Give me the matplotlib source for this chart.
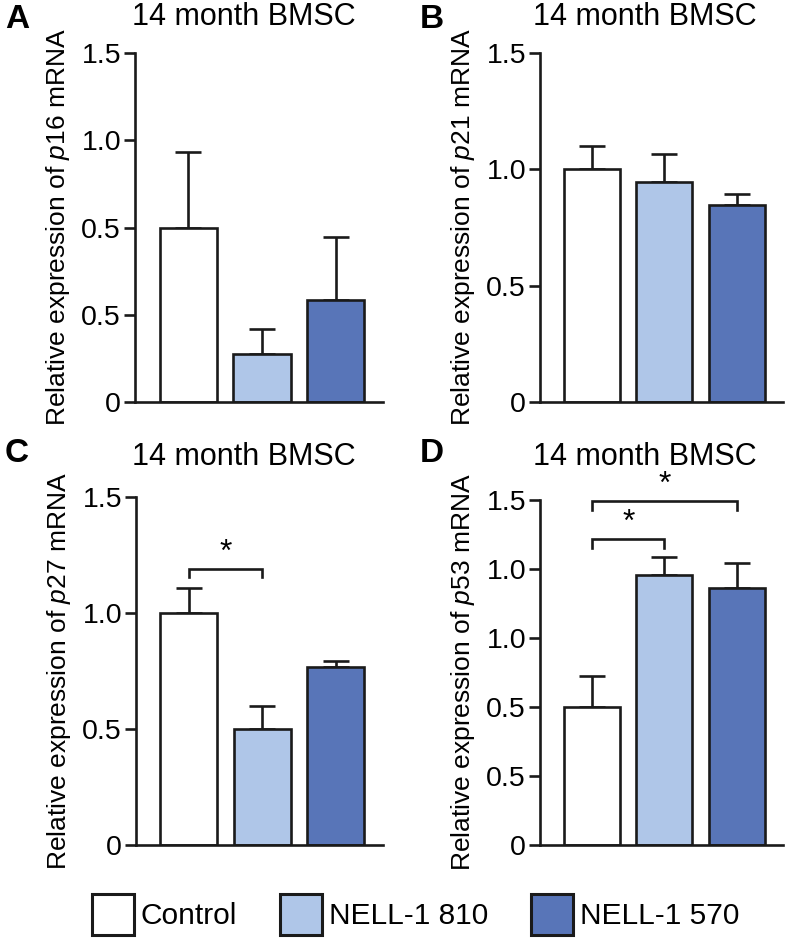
import numpy as np
import matplotlib
matplotlib.use("Agg")
import matplotlib.pyplot as plt
from matplotlib.patches import Patch

plt.rcParams['font.family'] = ['Liberation Sans', 'DejaVu Sans']
plt.rcParams['mathtext.fontset'] = 'custom'
plt.rcParams['mathtext.rm'] = 'Liberation Sans'
plt.rcParams['mathtext.it'] = 'Liberation Sans:italic'
plt.rcParams['mathtext.bf'] = 'Liberation Sans:bold'

groups = ["Control", "NELL-1 810", "NELL-1 570"]
colors = ["#ffffff", "#afc6e8", "#5875b8"]
edge = "#1a1a1a"

# Panel A (p16) - axis units, tick labels as printed
a_mean = [0.75, 0.205, 0.437]
a_err = [0.324, 0.107, 0.271]
a_ticklabels = ["0", "0.5", "0.5", "1.0", "1.5"]

# Panel B (p21)
b_mean = [1.0, 0.947, 0.847]
b_err = [0.101, 0.118, 0.048]
b_ticklabels = ["0", "0.5", "1.0", "1.5"]

# Panel C (p27)
c_mean = [1.0, 0.5, 0.768]
c_err = [0.106, 0.097, 0.026]
c_ticklabels = ["0", "0.5", "1.0", "1.5"]

# Panel D (p53)
d_mean = [0.601, 1.174, 1.116]
d_err = [0.134, 0.079, 0.111]
d_ticklabels = ["0", "0.5", "0.5", "1.0", "1.0", "1.5"]

# significance brackets: (left group, right group, bottom y, top y)
c_brackets = [(0, 1, 1.155, 1.19)]
d_brackets = [(0, 1, 1.29, 1.329), (0, 2, 1.457, 1.496)]

genes = ["p16", "p21", "p27", "p53"]
panels = ["A", "B", "C", "D"]

fig = plt.figure(figsize=(7.91, 9.41), dpi=100)

W, H = 791, 941
def rect(l, r, b, t):
    return [l / W, 1 - b / H, (r - l) / W, (b - t) / H]

axes_rects = [rect(135, 383, 402, 53), rect(540, 783, 402, 53),
              rect(136, 383, 845, 497), rect(540, 783, 845, 500)]
data = [(a_mean, a_err, a_ticklabels, []),
        (b_mean, b_err, b_ticklabels, []),
        (c_mean, c_err, c_ticklabels, c_brackets),
        (d_mean, d_err, d_ticklabels, d_brackets)]
title_pos = [(244, 17), (645, 17), (244, 457), (645, 457)]
letter_pos = [(17, 20), (432, 20), (17, 453), (432, 453)]

lw = 1.9
x = np.arange(len(groups))
for i, (r, (mean, err, tl, brackets)) in enumerate(zip(axes_rects, data)):
    ax = fig.add_axes(r)
    ax.bar(x, mean, width=0.775, color=colors, edgecolor=edge, linewidth=lw, zorder=2)
    ax.errorbar(x, mean, yerr=[np.zeros(len(err)), err], fmt='none', ecolor=edge,
                elinewidth=lw, capsize=9.7, capthick=lw, zorder=1)
    ax.set_xlim(-0.72, 2.64)
    ax.set_ylim(0, 1.5)
    ax.set_yticks(np.linspace(0, 1.5, len(tl)))
    ax.set_yticklabels(tl, fontsize=20.5)
    ax.set_xticks([])
    for s in ["top", "right"]:
        ax.spines[s].set_visible(False)
    for s in ["left", "bottom"]:
        ax.spines[s].set_linewidth(lw)
        ax.spines[s].set_color(edge)
    ax.tick_params(axis='y', length=8, width=lw, color=edge, pad=2)
    ax.set_ylabel("Relative expression of $\\mathit{" + genes[i] + "}$ mRNA",
                  fontsize=19, labelpad=7)
    for (g1, g2, yb, yt) in brackets:
        ax.plot([g1, g1, g2, g2], [yb, yt, yt, yb], color=edge, lw=lw, clip_on=False,
                solid_joinstyle='miter')
        ax.text((g1 + g2) / 2, yt + 0.005, "*", ha='center', va='bottom', fontsize=23,
                clip_on=False)
    fig.text(title_pos[i][0] / W, 1 - title_pos[i][1] / H, "14 month BMSC", fontsize=22,
             ha='center', va='center')
    fig.text(letter_pos[i][0] / W, 1 - letter_pos[i][1] / H, panels[i], fontsize=24,
             fontweight='bold', ha='center', va='center')

handles = [Patch(facecolor=c, edgecolor=edge, linewidth=lw + 0.3) for c in colors]
fig.legend(handles, groups, loc='center', bbox_to_anchor=(415.5 / W, 1 - 914.5 / H),
           ncol=3, frameon=False, handlelength=1.4, handleheight=1.73,
           handletextpad=0.23, columnspacing=1.44, borderpad=0, borderaxespad=0,
           prop={'size': 21.5})

fig.savefig("out.png", dpi=100)
